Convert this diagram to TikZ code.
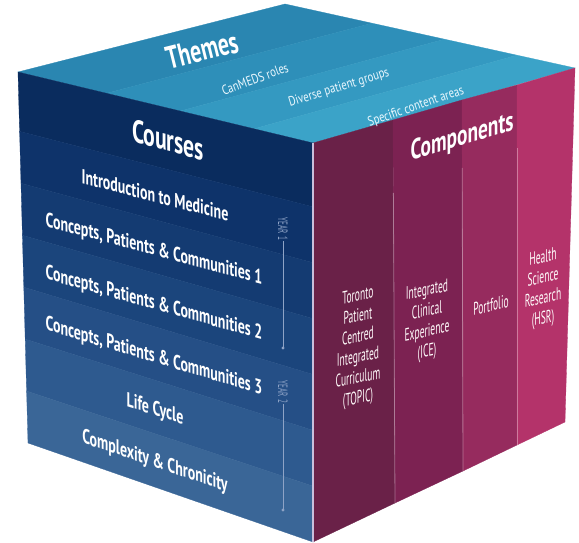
\documentclass[tikz,border=0pt]{standalone}
\usepackage{fontspec}
\setmainfont{PT Sans}
\newfontfamily\cfb{PT Sans}[FakeStretch=0.68]
\newfontfamily\cfr{PT Sans}[FakeStretch=0.53]
\newfontfamily\cft{PT Sans}[FakeStretch=0.8]
\usetikzlibrary{calc}
\definecolor{topA}{HTML}{2A86B1}
\definecolor{topB}{HTML}{2E8FB9}
\definecolor{topC}{HTML}{3499C1}
\definecolor{topD}{HTML}{3BA3C8}
\definecolor{lfA}{HTML}{0A2C5E}
\definecolor{lfB}{HTML}{0E336A}
\definecolor{lfC}{HTML}{143B72}
\definecolor{lfD}{HTML}{1B457C}
\definecolor{lfE}{HTML}{254F86}
\definecolor{lfF}{HTML}{2E5A8F}
\definecolor{lfG}{HTML}{3A6697}
\definecolor{rtA}{HTML}{6A2148}
\definecolor{rtB}{HTML}{7C2252}
\definecolor{rtC}{HTML}{962B5E}
\definecolor{rtD}{HTML}{B4336A}
\definecolor{edgec}{HTML}{C9BFDC}
\definecolor{yearc}{HTML}{8EA3C6}
\begin{document}
\begin{tikzpicture}[x=1pt,y=-1pt,
  bigt/.style={text=white, font=\cfb\bfseries\fontsize{32}{34}\selectfont, inner sep=0pt},
  rowt/.style={text=white, font=\cfb\bfseries\fontsize{20.5}{22}\selectfont, inner sep=0pt},
  topt/.style={text=white!92!cyan, font=\cft\fontsize{13.5}{15}\selectfont, inner sep=0pt},
  compt/.style={text=white!92!pink, font=\cfr\fontsize{18}{20.5}\selectfont, align=center, inner sep=0pt},
  yearlbl/.style={text=yearc, font=\cfr\fontsize{13.5}{14}\selectfont, inner sep=1pt},
  yearline/.style={draw=yearc, line width=0.9pt},
  sepline/.style={draw=white, opacity=0.35, line width=0.8pt}]
\useasboundingbox (0,0) rectangle (579,543);
% cube corners
\coordinate (L) at (18,72);
\coordinate (B) at (285,4);
\coordinate (R) at (575,68);
\coordinate (F) at (313,143);
\coordinate (LB) at (28,443);
\coordinate (FB) at (313,542);
\coordinate (RB) at (565,422);
% top face bands
\foreach \a/\b/\col in {0/0.3/topA, 0.3/0.55/topB, 0.55/0.8/topC, 0.8/1/topD}
  \filldraw[fill=\col, draw=\col, line width=0.3pt] ($(L)!\a!(F)$) -- ($(B)!\a!(R)$) -- ($(B)!\b!(R)$) -- ($(L)!\b!(F)$) -- cycle;
% left face bands
\foreach \a/\b/\col in {0/0.16/lfA, 0.16/0.30/lfB, 0.30/0.44/lfC, 0.44/0.58/lfD, 0.58/0.72/lfE, 0.72/0.86/lfF, 0.86/1/lfG}
  \filldraw[fill=\col, draw=\col, line width=0.3pt] ($(L)!\a!(LB)$) -- ($(F)!\a!(FB)$) -- ($(F)!\b!(FB)$) -- ($(L)!\b!(LB)$) -- cycle;
% right face columns
\coordinate (c1t) at (393,120); \coordinate (c1b) at (395,503);
\coordinate (c2t) at (462,100); \coordinate (c2b) at (463,471);
\coordinate (c3t) at (517,85);  \coordinate (c3b) at (517,445);
\filldraw[fill=rtA, draw=rtA, line width=0.3pt] (F) -- (c1t) -- (c1b) -- (FB) -- cycle;
\filldraw[fill=rtB, draw=rtB, line width=0.3pt] (c1t) -- (c2t) -- (c2b) -- (c1b) -- cycle;
\filldraw[fill=rtC, draw=rtC, line width=0.3pt] (c2t) -- (c3t) -- (c3b) -- (c2b) -- cycle;
\filldraw[fill=rtD, draw=rtD, line width=0.3pt] (c3t) -- (R) -- (RB) -- (c3b) -- cycle;
% column separator lines
\coordinate (s1) at ($(c1t)!0.19!(c1b)$);
\coordinate (s2) at ($(c2t)!0.183!(c2b)$);
\coordinate (s3) at ($(c3t)!0.175!(c3b)$);
\draw[sepline] (s1) -- (c1b);
\draw[sepline] (s2) -- (c2b);
\draw[sepline] (s3) -- (c3b);
% front edge highlight
\draw[edgec, line width=1.6pt] (F) -- (FB);
% top face texts
\node[bigt, rotate=14] (themes) at (202,50) {Themes};
\node[topt, rotate=20] (canmeds) at (255,79) {CanMEDS roles};
\node[topt, rotate=17] (diverse) at (339,88) {Diverse patient groups};
\node[topt, rotate=19] (specific) at (416,107) {Specific content areas};
% left face texts
\node[bigt, yslant=-0.26] (courses) at (168,140) {Courses};
\node[rowt, yslant=-0.26] (intro) at (155,195) {Introduction to Medicine};
\node[rowt, yslant=-0.27] (cpc1) at (154,250) {Concepts, Patients \& Communities 1};
\node[rowt, yslant=-0.28] (cpc2) at (154,304) {Concepts, Patients \& Communities 2};
\node[rowt, yslant=-0.30] (cpc3) at (154,357) {Concepts, Patients \& Communities 3};
\node[rowt, yslant=-0.32] (life) at (155,410) {Life Cycle};
\node[rowt, yslant=-0.34] (complex) at (155,462) {Complexity \& Chronicity};
% year markers
\node[yearlbl, rotate=-90] (year1) at (283,229) {YEAR 1};
\coordinate (y1end) at (283,348);
\draw[yearline] (year1.east) -- (y1end);
\fill[yearc] (y1end) circle (1.6pt);
\node[yearlbl, rotate=-90] (year2) at (283,392) {YEAR 2};
\coordinate (y2end) at (283,510);
\draw[yearline] (year2.east) -- (y2end);
\fill[yearc] (y2end) circle (1.6pt);
% right face texts
\node[bigt, yslant=0.3, font=\cfb\bfseries\fontsize{28.5}{30}\selectfont] (components) at (462,138) {Components};
\node[compt, yslant=0.21] (topic) at (358,348) {Toronto\\Patient\\Centred\\Integrated\\Curriculum\\(TOPIC)};
\node[compt, yslant=0.21] (ice) at (427,322) {Integrated\\Clinical\\Experience\\(ICE)};
\node[compt, yslant=0.24] (portfolio) at (491,305) {Portfolio};
\node[compt, yslant=0.21] (hsr) at (543,289) {Health\\Science\\Research\\(HSR)};
\end{tikzpicture}
\end{document}
